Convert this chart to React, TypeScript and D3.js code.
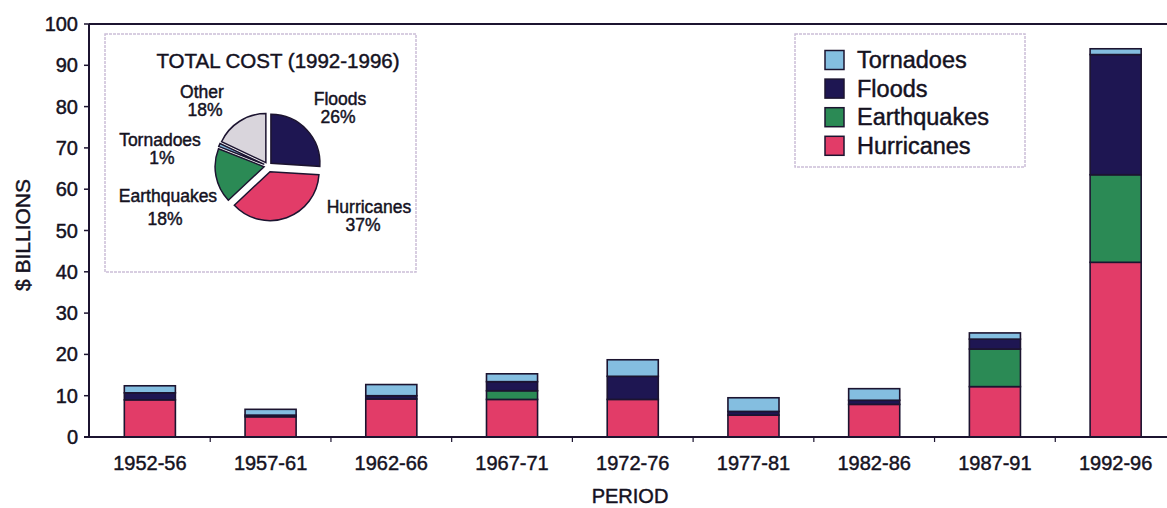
import React from "react";
import * as d3 from "d3";

const periods = ["1952-56", "1957-61", "1962-66", "1967-71", "1972-76", "1977-81", "1982-86", "1987-91", "1992-96"];
const hurricanes = [9.0, 4.9, 9.2, 9.1, 9.1, 5.3, 7.9, 12.2, 42.3];
const earthquakes = [0, 0, 0, 2.1, 0, 0, 0, 9.1, 21.2];
const floods = [1.7, 0.4, 0.8, 2.2, 5.6, 0.9, 1.0, 2.4, 29.1];
const tornadoes = [1.7, 1.4, 2.7, 1.9, 4.0, 3.3, 2.8, 1.5, 1.4];
const yTicks = [0, 10, 20, 30, 40, 50, 60, 70, 80, 90, 100];

const seriesKeys = ["hurricanes", "earthquakes", "floods", "tornadoes"];
const legendKeys = ["tornadoes", "floods", "earthquakes", "hurricanes"];
const legendNames = ["Tornadoes", "Floods", "Earthquakes", "Hurricanes"];

const pieNames = ["Floods", "Hurricanes", "Earthquakes", "Tornadoes", "Other"];
const piePct = [26, 37, 18, 1, 18];

const COLORS: Record<string, string> = {
  hurricanes: "#e23c68",
  earthquakes: "#2b8a55",
  floods: "#1e1652",
  tornadoes: "#84bee0",
  other: "#d9d5dc",
};
const pieColors = [COLORS.floods, COLORS.hurricanes, COLORS.earthquakes, COLORS.tornadoes, COLORS.other];
const pieOffsets = [4, 6, 4, 4, 4];
// label positions for pie annotations [name center x, name y, pct center x, pct y]
const pieLabelPos = [
  [340, 99, 338, 117],
  [369, 207, 363, 225],
  [168, 196, 165, 219],
  [160, 140, 162, 158],
  [202, 92, 205, 110],
];

const FONT = "'Liberation Sans', Arial, Helvetica, sans-serif";
const INK = "#15121f";
const LINE = "#1c1430";
const TX = { fontFamily: FONT, fill: INK, stroke: INK, strokeWidth: 0.45, dominantBaseline: "central" as const };

export default function App() {
  const W = 1167, H = 508;
  const y = d3.scaleLinear().domain([0, 100]).range([437, 24]);
  const x = d3.scaleBand<string>().domain(periods).range([89.5, 1176]).paddingInner(0.577).paddingOuter(0.2885);

  const rows = periods.map((p, i) => ({
    period: p,
    hurricanes: hurricanes[i],
    earthquakes: earthquakes[i],
    floods: floods[i],
    tornadoes: tornadoes[i],
  }));
  const stack = d3.stack<any>().keys(seriesKeys)(rows);

  const pieData = d3.pie<number>().sort(null).value((d) => d)(piePct);
  const arc = d3.arc<any>().innerRadius(0).outerRadius(49);
  const pcx = 268, pcy = 166;

  const step = x.step();
  const boundaries = periods.slice(1).map((p) => (x(p) as number) - (step - x.bandwidth()) / 2);

  return (
    <svg width={W} height={H} style={{ position: "absolute", left: 0, top: 0, background: "#fff" }}>
      {/* inset box */}
      <rect x={105} y={34} width={311} height={238} fill="none" stroke="#cbbfd8" strokeWidth={1.5} strokeDasharray="3 1" />
      {/* legend box */}
      <rect x={795} y={34} width={230} height={133} fill="none" stroke="#cbbfd8" strokeWidth={1.5} strokeDasharray="3 1" />

      {/* bars */}
      {stack.map((s) =>
        s.map((d, i) => {
          const h = y(d[0]) - y(d[1]);
          if (h <= 0.01) return null;
          return (
            <rect
              key={s.key + i}
              x={x(periods[i])}
              y={y(d[1])}
              width={x.bandwidth()}
              height={h}
              fill={COLORS[s.key as string]}
              stroke={LINE}
              strokeWidth={1.6}
            />
          );
        })
      )}

      {/* frame / axes */}
      <line x1={89} x2={W} y1={24} y2={24} stroke={LINE} strokeWidth={2} />
      <line x1={89} x2={89} y1={24} y2={437} stroke={LINE} strokeWidth={2} />
      <line x1={84} x2={W} y1={437} y2={437} stroke={LINE} strokeWidth={2} />
      {yTicks.map((t) => (
        <g key={t}>
          <line x1={84} x2={89} y1={y(t)} y2={y(t)} stroke={LINE} strokeWidth={1.5} />
          <text x={78} y={y(t)} textAnchor="end" fontSize={20} {...TX}>
            {t}
          </text>
        </g>
      ))}
      {boundaries.map((bx, i) => (
        <line key={i} x1={bx} x2={bx} y1={437} y2={442} stroke={LINE} strokeWidth={1.2} />
      ))}
      {periods.map((p) => (
        <text key={p} x={(x(p) as number) + x.bandwidth() / 2} y={463} textAnchor="middle" fontSize={20} {...TX}>
          {p}
        </text>
      ))}
      <text x={630} y={496} textAnchor="middle" fontSize={20} {...TX}>
        PERIOD
      </text>
      <text transform="translate(22,235) rotate(-90)" textAnchor="middle" fontSize={21} {...TX}>
        $ BILLIONS
      </text>

      {/* legend */}
      {legendKeys.map((k, i) => (
        <g key={k} transform={`translate(0,${60 + i * 28.6})`}>
          <rect x={825} y={-9.5} width={19} height={19} fill={COLORS[k]} stroke={LINE} strokeWidth={1.5} />
          <text x={857} y={0} fontSize={23.5} {...TX}>
            {legendNames[i]}
          </text>
        </g>
      ))}

      {/* pie inset */}
      <text x={278} y={60} textAnchor="middle" fontSize={20.5} {...TX}>
        TOTAL COST (1992-1996)
      </text>
      {pieData.map((d, i) => {
        const mid = (d.startAngle + d.endAngle) / 2;
        const ox = Math.sin(mid) * pieOffsets[i];
        const oy = -Math.cos(mid) * pieOffsets[i];
        return (
          <path
            key={i}
            d={arc(d) as string}
            transform={`translate(${pcx + ox},${pcy + oy})`}
            fill={pieColors[i]}
            stroke={LINE}
            strokeWidth={1.5}
          />
        );
      })}
      {pieNames.map((n, i) => (
        <g key={n}>
          <text x={pieLabelPos[i][0]} y={pieLabelPos[i][1]} textAnchor="middle" fontSize={17.5} {...TX}>
            {n}
          </text>
          <text x={pieLabelPos[i][2]} y={pieLabelPos[i][3]} textAnchor="middle" fontSize={17.5} {...TX}>
            {piePct[i]}%
          </text>
        </g>
      ))}
    </svg>
  );
}
